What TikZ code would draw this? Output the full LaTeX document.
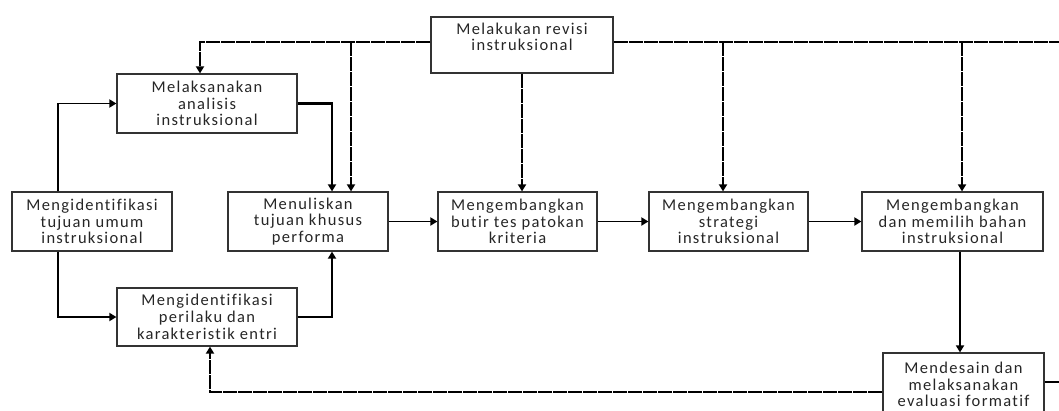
\documentclass[tikz,border=0pt]{standalone}
\usepackage{fontspec}
\setmainfont{Carlito}[LetterSpace=8, Ligatures=NoCommon]
\usepackage{tikz}
\usetikzlibrary{arrows.meta}
\usetikzlibrary{calc}
\tikzset{stepbox/.style={draw=black!80, line width=1.2pt, align=center, text=black!85,
    font=\fontsize{16.5}{16.7}\selectfont, inner sep=0pt}}
\tikzset{flow/.style={black, line width=1.8pt, ->}}
\tikzset{revline/.style={black, line width=1.8pt, dash pattern=on 14pt off 1pt}}

\begin{document}
\begin{tikzpicture}[x=1pt, y=-1pt, >={Triangle[length=7pt,width=8pt]}]
\useasboundingbox (0,0) rectangle (1059,410);
% kotak-kotak
\node[stepbox, minimum width=182pt, minimum height=56pt] (revisi) at (522,45) {Melakukan revisi\\instruksional\\~};
\node[stepbox, minimum width=180pt, minimum height=59pt] (analisis) at (207,103.5) {Melaksanakan\\analisis\\instruksional};
\node[stepbox, minimum width=160pt, minimum height=59pt] (tujuan) at (92,221.5) {Mengidentifikasi\\tujuan umum\\instruksional};
\node[stepbox, minimum width=180pt, minimum height=58pt] (identifikasi) at (207,317) {Mengidentifikasi\\perilaku dan\\karakteristik entri};
\node[stepbox, minimum width=160pt, minimum height=59pt] (menuliskan) at (308,221.5) {Menuliskan\\tujuan khusus\\performa};
\node[stepbox, minimum width=159pt, minimum height=59pt] (butir) at (517.5,221.5) {Mengembangkan\\butir tes patokan\\kriteria};
\node[stepbox, minimum width=159pt, minimum height=59pt] (strategi) at (728.5,221.5) {Mengembangkan\\strategi\\instruksional};
\node[stepbox, minimum width=181pt, minimum height=59pt] (bahan) at (952.5,221.5) {Mengembangkan\\dan memilih bahan\\instruksional};
\node[stepbox, minimum width=161pt, minimum height=63pt] (evaluasi) at (963.5,384.5) {Mendesain dan\\melaksanakan\\evaluasi formatif};
% titik bantu
\coordinate (lx) at (58,0);
\coordinate (rx) at (332,0);
\coordinate (top) at (0,42);
\coordinate (bot) at (0,392);
\coordinate (ex) at (960,0);
\coordinate (fbL) at (200,42);
\coordinate (fbR) at (1065,42);
\coordinate (fbE) at (1065,382);
% alur utama
\draw[flow] (tujuan.north -| lx) |- (analisis.west);
\draw[flow] (tujuan.south -| lx) |- (identifikasi.west);
\draw[flow, line width=2.4pt] (analisis.east) -| (menuliskan.north -| rx);
\draw[flow, line width=2.4pt] (identifikasi.east) -| (menuliskan.south -| rx);
\draw[flow] (menuliskan.east) -- (butir.west);
\draw[flow] (butir.east) -- (strategi.west);
\draw[flow] (strategi.east) -- (bahan.west);
\draw[flow, line width=2.4pt] (bahan.south -| ex) -- (evaluasi.north -| ex);
% garis revisi
\draw[revline, ->] (revisi.west |- top) -- (fbL) -- (analisis.north -| fbL);
\draw[revline] (revisi.east |- top) -- (fbR);
\foreach \bx/\tgt in {351/menuliskan, 723/strategi, 962/bahan}
  \draw[revline, ->] (\bx,42) -- (\tgt.north -| \bx,0);
\draw[revline, ->] (revisi.south) -- (revisi.south |- butir.north);
\draw[revline, ->] (evaluasi.west |- bot) -| (identifikasi.south -| 210,0);
\draw[revline] (evaluasi.east |- fbE) -- (fbE);
\end{tikzpicture}
\end{document}
